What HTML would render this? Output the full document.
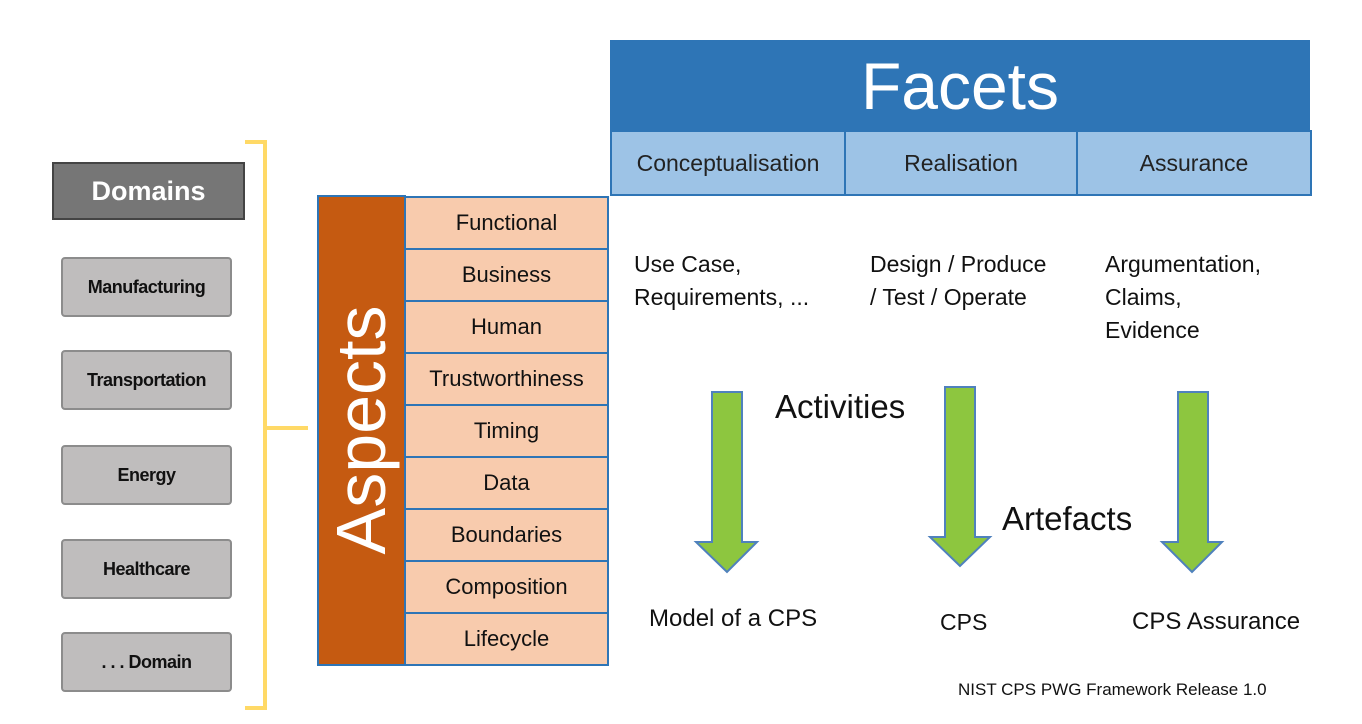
<!DOCTYPE html>
<html><head><style>
body{margin:0;width:1362px;height:724px;background:#fff;position:relative;overflow:hidden;font-family:"Liberation Sans",sans-serif}
.a{position:absolute;box-sizing:border-box}
.g{background:#bfbdbd;border:2px solid #8c8c8c;border-radius:4px;left:61px;width:171px;height:60px;display:flex;align-items:center;justify-content:center;font-weight:bold;font-size:18px;color:#111;letter-spacing:-0.5px}
.r{left:404px;width:205px;height:52px;background:#f8cbad;border:2px solid #2e75b6;border-top:none;display:flex;align-items:center;justify-content:center;font-size:22px;color:#111}
.f{top:130px;height:66px;background:#9dc3e6;border:2px solid #2e75b6;display:flex;align-items:center;justify-content:center;font-size:23px;color:#222}
.t{font-size:23px;color:#111;line-height:33px}
</style></head><body>
<div class="a" style="left:52px;top:162px;width:193px;height:58px;background:#767676;border:2px solid #444;color:#fff;font-weight:bold;font-size:27px;display:flex;align-items:center;justify-content:center">Domains</div>
<div class="a g" style="top:257px">Manufacturing</div>
<div class="a g" style="top:350px">Transportation</div>
<div class="a g" style="top:445px">Energy</div>
<div class="a g" style="top:539px">Healthcare</div>
<div class="a g" style="top:632px">. . . Domain</div>
<svg class="a" style="left:0;top:0" width="1362" height="724">
<path d="M245 142 H265 V708 H245 M265 428 H308" fill="none" stroke="#ffd966" stroke-width="4"/>
<g fill="#8dc63f" stroke="#4f81bd" stroke-width="2">
<path d="M712 392 H742 V542 H757 L727 572 L696 542 H712 Z"/>
<path d="M945 387 H975 V537 H990 L960 566 L930 537 H945 Z"/>
<path d="M1178 392 H1208 V542 H1222 L1192 572 L1162 542 H1178 Z"/>
</g>
</svg>
<div class="a" style="left:610px;top:40px;width:700px;height:91px;background:#2e75b6;color:#fff;font-size:66px;display:flex;align-items:center;justify-content:center">Facets</div>
<div class="a f" style="left:610px;width:236px">Conceptualisation</div>
<div class="a f" style="left:844px;width:234px">Realisation</div>
<div class="a f" style="left:1076px;width:236px">Assurance</div>
<div class="a" style="left:317px;top:195px;width:89px;height:471px;background:#c55a11;border:2px solid #2e75b6"></div>
<div class="a" style="left:361px;top:430px;width:0;height:0"><div style="position:absolute;transform:translate(-50%,-50%) rotate(-90deg);color:#fff;font-size:70px;white-space:nowrap">Aspects</div></div>
<div class="a r" style="top:196px;border-top:2px solid #2e75b6;height:54px">Functional</div>
<div class="a r" style="top:250px">Business</div>
<div class="a r" style="top:302px">Human</div>
<div class="a r" style="top:354px">Trustworthiness</div>
<div class="a r" style="top:406px">Timing</div>
<div class="a r" style="top:458px">Data</div>
<div class="a r" style="top:510px">Boundaries</div>
<div class="a r" style="top:562px">Composition</div>
<div class="a r" style="top:614px">Lifecycle</div>
<div class="a t" style="left:634px;top:248px">Use Case,<br>Requirements, ...</div>
<div class="a t" style="left:870px;top:248px">Design / Produce<br>/ Test / Operate</div>
<div class="a t" style="left:1105px;top:248px">Argumentation,<br>Claims,<br>Evidence</div>
<div class="a" style="left:775px;top:388px;font-size:33px;color:#111">Activities</div>
<div class="a" style="left:1002px;top:500px;font-size:33px;color:#111">Artefacts</div>
<div class="a t" style="left:649px;top:602px;font-size:24px">Model of a CPS</div>
<div class="a t" style="left:940px;top:606px">CPS</div>
<div class="a t" style="left:1132px;top:605px;font-size:24px">CPS Assurance</div>
<div class="a" style="left:958px;top:680px;font-size:17px;color:#111">NIST CPS PWG Framework Release 1.0</div>
</body></html>
